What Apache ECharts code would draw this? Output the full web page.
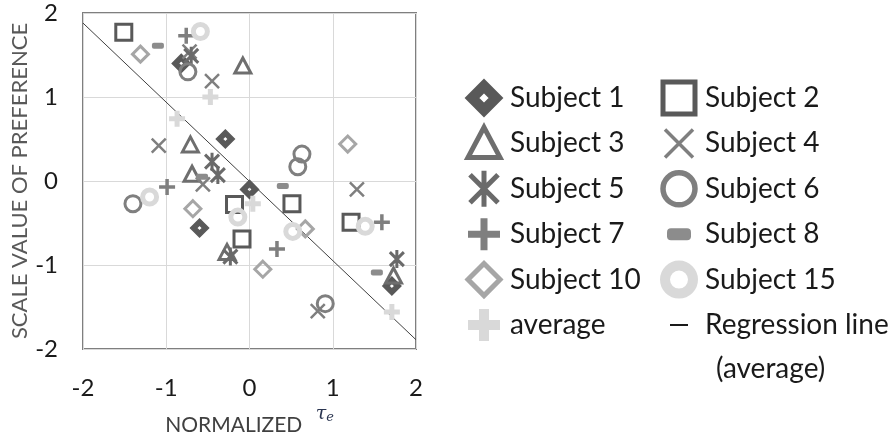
<!DOCTYPE html>
<html>
<head>
<meta charset="utf-8">
<script src="https://cdn.jsdelivr.net/npm/echarts@6/dist/echarts.min.js"></script>
<style>html,body{margin:0;padding:0;background:#fff;}#c{width:890px;height:441px;}</style>
</head>
<body>
<div id="c"></div>
<script>
// ---- data (x = normalized tau_e, y = scale value of preference) ----
const subject1 = [[-0.82,1.40],[-0.29,0.50],[0.00,-0.10],[-0.60,-0.56],[1.71,-1.25]];
const subject2 = [[-1.51,1.77],[-0.18,-0.28],[-0.09,-0.69],[0.51,-0.27],[1.22,-0.49]];
const subject3 = [[-0.08,1.37],[-0.71,0.43],[-0.69,0.08],[-0.27,-0.85],[1.73,-1.13]];
const subject4 = [[-0.72,1.54],[-0.45,1.19],[-1.09,0.42],[-0.56,-0.04],[1.29,-0.10],[0.82,-1.55]];
const subject5 = [[-0.70,1.49],[-0.45,0.23],[-0.38,0.07],[-0.23,-0.90],[1.77,-0.93]];
const subject6 = [[-0.74,1.30],[-1.40,-0.27],[0.63,0.32],[0.58,0.17],[0.91,-1.46]];
const subject7 = [[-0.76,1.73],[-0.99,-0.07],[0.33,-0.81],[1.59,-0.49]];
const subject8 = [[-1.10,1.61],[-0.57,0.05],[0.40,-0.06],[1.53,-1.09]];
const subject10 = [[-1.31,1.51],[-0.68,-0.33],[0.67,-0.57],[0.16,-1.05],[1.18,0.44]];
const subject15 = [[-0.59,1.78],[-1.20,-0.19],[-0.14,-0.43],[0.52,-0.60],[1.39,-0.54]];
const average = [[-0.47,1.00],[-0.87,0.74],[0.04,-0.27],[1.71,-1.56]];
const regX = [-2, 2];
const regY = [1.88, -1.89];
const xTicks = [-2, -1, 0, 1, 2];
const yTicks = [-2, -1, 0, 1, 2];

// ---- symbols ----
const PAD = 'M-10,-10M10,10';
const SYM = {
  diamondHole: 'path://' + PAD + 'M0,-9L9,0L0,9L-9,0ZM0,-3L-3,0L0,3L3,0Z',
  square: 'path://' + PAD + 'M-8,-8L8,-8L8,8L-8,8Z',
  triangle: 'path://' + PAD + 'M0,-8L8,7L-8,7Z',
  cross: 'path://' + PAD + 'M-7,-7L7,7M7,-7L-7,7',
  star: 'path://' + PAD + 'M-7,-7L7,7M7,-7L-7,7M0,-9L0,9',
  circle: 'path://' + PAD + 'M8,0A8,8 0 1 1 -8,0A8,8 0 1 1 8,0Z',
  circleS: 'path://' + PAD + 'M7,0A7,7 0 1 1 -7,0A7,7 0 1 1 7,0Z',
  plus: 'path://' + PAD + 'M0,-8L0,8M-8,0L8,0',
  pill: 'path://' + PAD + 'M-4,-3L4,-3Q6,-3 6,-1L6,1Q6,3 4,3L-4,3Q-6,3 -6,1L-6,-1Q-6,-3 -4,-3Z',
  diamond: 'path://' + PAD + 'M0,-8L8,0L0,8L-8,0Z',
  dash: 'path://' + PAD + 'M-4.5,0L4.5,0'
};

const defs = [
  {name:'Subject 1', data:subject1, sym:SYM.diamondHole, color:'#595959', fill:true, bw:1.5, lbw:2},
  {name:'Subject 2', data:subject2, sym:SYM.square, color:'#595959', fill:false, bw:3, lbw:5},
  {name:'Subject 3', data:subject3, sym:SYM.triangle, color:'#6e6e6e', fill:false, bw:3, lbw:5},
  {name:'Subject 4', data:subject4, sym:SYM.cross, color:'#7f7f7f', fill:false, bw:2.5, lbw:3.5},
  {name:'Subject 5', data:subject5, sym:SYM.star, color:'#6a6a6a', fill:false, bw:3, lbw:5},
  {name:'Subject 6', data:subject6, sym:SYM.circle, color:'#7f7f7f', fill:false, bw:3, lbw:5.5},
  {name:'Subject 7', data:subject7, sym:SYM.plus, color:'#7f7f7f', fill:false, bw:3.5, lbw:7},
  {name:'Subject 8', data:subject8, sym:SYM.pill, color:'#8c8c8c', fill:true, bw:0, lbw:0},
  {name:'Subject 10', data:subject10, sym:SYM.diamond, color:'#a6a6a6', fill:false, bw:3, lbw:5},
  {name:'Subject 15', data:subject15, sym:SYM.circleS, color:'#d9d9d9', fill:false, bw:5, lbw:10},
  {name:'average', data:average, sym:SYM.plus, color:'#d9d9d9', fill:false, bw:5, lbw:10}
];

const series = defs.map(d => ({
  name: d.name, type: 'scatter', data: d.data, symbol: d.sym, symbolSize: 20,
  itemStyle: {color: d.fill ? d.color : 'rgba(0,0,0,0)', borderColor: d.color, borderWidth: d.bw, opacity: 1},
  emphasis: {disabled: true}, z: 3
}));
series.push({
  name: 'Regression line', type: 'line', data: regX.map((x, i) => [x, regY[i]]),
  showSymbol: false, symbol: 'none', lineStyle: {color: '#404040', width: 1}, z: 2,
  emphasis: {disabled: true}
});

function legendItem(d) {
  return {name: d.name, icon: d.sym,
    itemStyle: {color: d.fill ? d.color : 'rgba(0,0,0,0)', borderColor: d.color, borderWidth: d.lbw}};
}
const col1 = ['Subject 1','Subject 3','Subject 5','Subject 7','Subject 10','average'];
const col2 = ['Subject 2','Subject 4','Subject 6','Subject 8','Subject 15'];
const byName = {}; defs.forEach(d => byName[d.name] = d);

const legendCommon = {
  orient: 'vertical', itemWidth: 42, itemHeight: 40, itemGap: -4.6, padding: 0,
  selectedMode: false, symbolKeepAspect: true,
  textStyle: {fontFamily: 'Lato', fontSize: 28, color: '#1a1a1a', lineHeight: 50}
};

const chart = echarts.init(document.getElementById('c'), null, {renderer: 'canvas'});
chart.setOption({
  animation: false,
  backgroundColor: '#fff',
  grid: {left: 83, top: 13, width: 333, height: 336, show: true, borderColor: '#7f7f7f', borderWidth: 2, containLabel: false},
  xAxis: {
    type: 'value', min: xTicks[0], max: xTicks[xTicks.length - 1], interval: 1,
    axisLine: {show: false}, axisTick: {show: false},
    splitLine: {lineStyle: {color: '#d9d9d9', width: 1}},
    axisLabel: {fontFamily: 'Lato', fontSize: 24, color: '#1a1a1a', margin: 27},
    name: '{n|NORMALIZED}    {t|τ}{s|e}', nameLocation: 'middle', nameGap: 55,
    nameTextStyle: {rich: {
      n: {fontFamily: 'Lato', fontSize: 21, color: '#404040', verticalAlign: 'bottom'},
      t: {fontFamily: 'DejaVu Serif', fontStyle: 'italic', fontSize: 19, color: '#2a3550', padding: [0,0,12,0]},
      s: {fontFamily: 'DejaVu Serif', fontStyle: 'italic', fontSize: 13, color: '#2a3550', padding: [0,0,6,0]}
    }}
  },
  yAxis: {
    type: 'value', min: yTicks[0], max: yTicks[yTicks.length - 1], interval: 1,
    axisLine: {show: false}, axisTick: {show: false},
    splitLine: {lineStyle: {color: '#d9d9d9', width: 1}},
    axisLabel: {fontFamily: 'Lato', fontSize: 24, color: '#1a1a1a', margin: 25},
    name: 'SCALE VALUE OF PREFERENCE', nameLocation: 'middle', nameGap: 52, nameRotate: 90,
    nameTextStyle: {fontFamily: 'Lato', fontSize: 22, color: '#595959'}
  },
  legend: [
    Object.assign({}, legendCommon, {left: 459, top: 73, data: col1.map(n => legendItem(byName[n]))}),
    Object.assign({}, legendCommon, {left: 654, top: 73, data: col2.map(n => legendItem(byName[n])).concat([
      {name: 'Regression line', icon: SYM.dash, itemStyle: {color: 'rgba(0,0,0,0)', borderColor: '#1a1a1a', borderWidth: 2}}
    ])})
  ],
  graphic: [{type: 'text', left: 716, top: 355, style: {text: '(average)', font: '28px Lato', fill: '#1a1a1a'}}],
  series: series
});
</script>
</body>
</html>
